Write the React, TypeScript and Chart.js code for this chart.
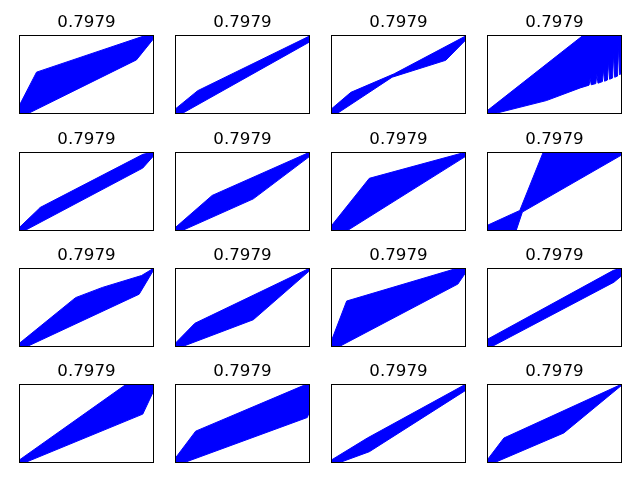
import React, { useEffect, useRef } from "react";
import { Chart, registerables } from "chart.js";

Chart.register(...registerables);

// ---- data: band edges per panel, as [x, y] pairs in axis units (0..1) ----
const TITLES = [
  "0.7979", "0.7979", "0.7979", "0.7979",
  "0.7979", "0.7979", "0.7979", "0.7979",
  "0.7979", "0.7979", "0.7979", "0.7979",
  "0.7979", "0.7979", "0.7979", "0.7979",
];

const upper00 = [[0, 0.1], [0.13, 0.53], [0.924, 0.987], [1, 1]];
const lower00 = [[0, 0], [0.06, 0], [0.87, 0.685], [1, 0.96]];

const upper01 = [[0, 0.06], [0.168, 0.295], [1, 0.99]];
const lower01 = [[0, 0], [0.046, 0], [1, 0.915]];

const upper02 = [[0, 0.06], [0.147, 0.274], [0.468, 0.509], [1, 0.99]];
const lower02 = [[0, 0], [0.04, 0], [0.453, 0.466], [0.85, 0.68], [1, 0.94]];

const upper03 = [[0, 0.04], [0.715, 1], [1, 1]];
const lower03 = [
  [0, 0], [0.045, 0], [0.44, 0.17], [0.69, 0.33], [0.756, 0.365], [0.764, 0.45], [0.772, 0.37],
  [0.806, 0.385], [0.814, 0.5], [0.822, 0.39], [0.855, 0.41], [0.863, 0.56], [0.871, 0.415],
  [0.892, 0.43], [0.9, 0.66], [0.908, 0.44], [0.93, 0.455], [0.938, 0.76], [0.946, 0.465],
  [0.967, 0.48], [0.975, 0.86], [0.983, 0.495], [1, 0.53],
];

const upper10 = [[0, 0.04], [0.159, 0.3], [0.917, 0.97], [1, 1]];
const lower10 = [[0, 0], [0.037, 0], [0.917, 0.797], [1, 0.957]];

const upper11 = [[0, 0.04], [0.275, 0.45], [1, 1]];
const lower11 = [[0, 0], [0.046, 0], [0.58, 0.407], [1, 0.948]];

const upper12 = [[0, 0.06], [0.284, 0.667], [1, 1]];
const lower12 = [[0, 0], [0.116, 0], [1, 0.948]];

const upper13 = [[0, 0.07], [0.243, 0.26], [0.417, 1], [1, 1]];
const lower13 = [[0, 0], [0.215, 0], [0.262, 0.24], [1, 0.965]];

const upper20 = [[0, 0.043], [0.419, 0.625], [0.618, 0.754], [0.908, 0.905], [1, 1]];
const lower20 = [[0, 0], [0.052, 0], [0.89, 0.668], [1, 0.983]];

const upper21 = [[0, 0.043], [0.147, 0.3], [1, 1]];
const lower21 = [[0, 0], [0.046, 0], [0.58, 0.345], [1, 0.97]];

const upper22 = [[0, 0.065], [0.116, 0.582], [0.94, 1], [1, 1]];
const lower22 = [[0, 0], [0.055, 0], [0.94, 0.797], [1, 0.948]];

const upper23 = [[0, 0.095], [0.936, 0.97], [1, 1]];
const lower23 = [[0, 0], [0.03, 0], [0.94, 0.82], [1, 0.905]];

const upper30 = [[0, 0.035], [0.786, 0.987], [1, 1]];
const lower30 = [[0, 0], [0.037, 0], [0.917, 0.619], [1, 0.922]];

const upper31 = [[0, 0.056], [0.153, 0.403], [0.95, 0.98], [1, 1]];
const lower31 = [[0, 0], [0.06, 0], [0.98, 0.576], [0.99, 0.62], [1, 0.597]];

const upper32 = [[0, 0.035], [0.269, 0.316], [1, 1]];
const lower32 = [[0, 0], [0.055, 0], [0.284, 0.143], [1, 0.922]];

const upper33 = [[0, 0.035], [0.125, 0.316], [1, 1]];
const lower33 = [[0, 0], [0.049, 0], [0.569, 0.38], [1, 0.987]];

const UPPERS = [
  upper00, upper01, upper02, upper03,
  upper10, upper11, upper12, upper13,
  upper20, upper21, upper22, upper23,
  upper30, upper31, upper32, upper33,
];
const LOWERS = [
  lower00, lower01, lower02, lower03,
  lower10, lower11, lower12, lower13,
  lower20, lower21, lower22, lower23,
  lower30, lower31, lower32, lower33,
];

// ---- layout ----
const COL_LEFT = [19, 175, 331, 487];
const ROW_TOP = [35, 152, 268, 384];
const AX_W = 134;
const AX_H = 78;
const TITLE_BLOCK = 35;
const BLUE = "#0000ff";

const framePlugin = {
  id: "frame",
  afterDraw(chart: any) {
    const { ctx, chartArea } = chart;
    ctx.save();
    ctx.strokeStyle = "#000";
    ctx.lineWidth = 1;
    ctx.strokeRect(chartArea.left + 0.5, chartArea.top + 0.5, AX_W, AX_H);
    ctx.restore();
  },
};

function Panel({ idx }: { idx: number }) {
  const ref = useRef<HTMLCanvasElement>(null);
  const row = Math.floor(idx / 4);
  const col = idx % 4;
  const width = AX_W + 1;
  const height = TITLE_BLOCK + AX_H + 1;

  useEffect(() => {
    if (!ref.current) return;
    const toPts = (arr: number[][]) => arr.map(([x, y]) => ({ x, y }));
    const chart = new Chart(ref.current, {
      type: "line",
      data: {
        datasets: [
          {
            data: toPts(UPPERS[idx]),
            borderColor: BLUE,
            borderWidth: 1,
            pointRadius: 0,
            fill: false,
          },
          {
            data: toPts(LOWERS[idx]),
            borderColor: BLUE,
            backgroundColor: BLUE,
            borderWidth: 1,
            pointRadius: 0,
            fill: "-1",
          },
        ],
      },
      options: {
        animation: false,
        responsive: false,
        devicePixelRatio: 1,
        layout: { padding: 0 },
        scales: {
          x: { type: "linear", min: 0, max: 1, display: false },
          y: { type: "linear", min: 0, max: 1, display: false },
        },
        plugins: {
          legend: { display: false },
          tooltip: { enabled: false },
          title: {
            display: true,
            text: TITLES[idx],
            color: "#000",
            font: { family: "DejaVu Sans", size: 16.67, weight: "normal", lineHeight: 1.2 },
            padding: { top: 13, bottom: 2 },
          },
        },
      },
      plugins: [framePlugin],
    } as any);
    return () => chart.destroy();
  }, [idx]);

  return (
    <canvas
      ref={ref}
      width={width}
      height={height}
      style={{
        position: "absolute",
        left: COL_LEFT[col],
        top: ROW_TOP[row] - TITLE_BLOCK,
        width,
        height,
      }}
    />
  );
}

export default function App() {
  return (
    <div style={{ position: "absolute", left: 0, top: 0, width: 640, height: 480, background: "#fff" }}>
      {TITLES.map((_, i) => (
        <Panel key={i} idx={i} />
      ))}
    </div>
  );
}
